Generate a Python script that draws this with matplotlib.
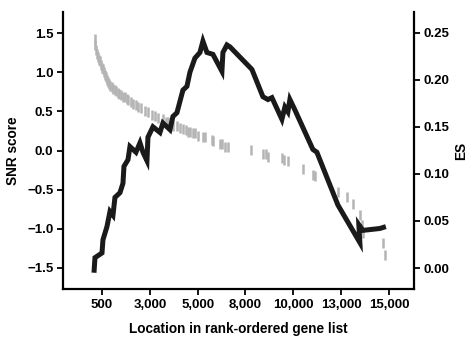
import matplotlib
matplotlib.use("Agg")
import matplotlib.pyplot as plt
import numpy as np

plt.rcParams['font.family'] = ['Liberation Sans', 'DejaVu Sans']
plt.rcParams['font.weight'] = 'bold'

# Running enrichment score (ES) line
es_rank = [96, 146, 500, 550, 752, 904, 1055, 1156, 1409, 1560, 1611, 1813, 1914,
           2217, 2419, 2570, 2772, 2823, 3075, 3429, 3580, 3934, 4085, 4287, 4590,
           4792, 4944, 5196, 5449, 5600, 5802, 6105, 6560, 6610, 6812, 6964, 8075,
           8630, 8883, 9085, 9590, 9741, 9893, 9994, 10246, 11155, 11358, 12418,
           13529, 13478, 13680, 14539, 14842]
es_value = [-0.005, 0.011, 0.016, 0.030, 0.044, 0.060, 0.056, 0.075, 0.080, 0.090,
            0.108, 0.115, 0.129, 0.123, 0.133, 0.123, 0.114, 0.139, 0.150, 0.144,
            0.154, 0.147, 0.161, 0.165, 0.189, 0.193, 0.208, 0.223, 0.229, 0.241,
            0.229, 0.227, 0.209, 0.229, 0.237, 0.235, 0.211, 0.182, 0.179, 0.181,
            0.158, 0.171, 0.166, 0.179, 0.168, 0.126, 0.123, 0.067, 0.027, 0.046,
            0.040, 0.042, 0.044]

# SNR scores of gene-set members
snr_rank = [146, 170, 197, 240, 298, 350, 399, 449, 500, 550, 600, 651, 702, 750, 803,
            850, 904, 1005, 1080, 1156, 1230, 1308, 1380, 1459, 1560, 1661, 1740, 1813,
            1964, 2065, 2217, 2318, 2470, 2671, 2823, 3025,
            3176, 3328, 3580, 3732, 3833, 4085, 4287, 4439, 4590, 4742, 4843, 4944,
            5096, 5196, 5348, 5600, 5702, 6055, 6106, 6459, 6560, 6711, 6863, 8025,
            8630, 8782, 8883, 9590, 9691, 9893, 10651, 11156, 11257, 12418, 12873,
            13176, 13529, 13630, 13681, 14691, 14792]
snr_value = [1.42, 1.35, 1.28, 1.23, 1.19, 1.16, 1.14, 1.09, 1.06, 1.04, 1.00, 0.97,
             0.94, 0.90, 0.87, 0.85, 0.83, 0.81, 0.79, 0.77, 0.76,
             0.74, 0.72, 0.71, 0.69, 0.68, 0.66, 0.64, 0.62, 0.59, 0.58, 0.56, 0.54, 0.51, 0.49,
             0.45, 0.44, 0.42, 0.40, 0.37, 0.36, 0.31, 0.31, 0.29, 0.27, 0.26, 0.24,
             0.24, 0.23, 0.22, 0.19, 0.17, 0.17, 0.13, 0.12, 0.08, 0.08, 0.05, 0.04,
             0.01, -0.04, -0.05, -0.08, -0.10, -0.12, -0.14, -0.24, -0.31, -0.33,
             -0.53, -0.60, -0.69, -0.82, -0.95, -1.05, -1.18, -1.33]

x_tick_labels = ['500', '3,000', '5,000', '8,000', '10,000', '13,000', '15,000']
snr_ticks = [-1.5, -1.0, -0.5, 0.0, 0.5, 1.0, 1.5]
es_ticks = [0.00, 0.05, 0.10, 0.15, 0.20, 0.25]

fig = plt.figure(figsize=(4.69, 3.37), dpi=100)
ax = fig.add_axes([0.1343, 0.1424, 0.8827 - 0.1343, 0.9644 - 0.1424])
ax2 = ax.twinx()

ax.plot(snr_rank, snr_value, ls='none', marker='|', ms=7.5, mew=1.8,
        color='#b4b4b4', zorder=1)
ax2.plot(es_rank, es_value, color='#1a1a1a', lw=3.6, solid_joinstyle='miter',
         solid_capstyle='butt', zorder=3)

ax.set_xlim(-1470, 16263)
ax.set_ylim(-1.77, 1.77)
ax2.set_ylim(-0.0223, 0.272)

ax.set_xticks(np.linspace(500, 15000, 7))
ax.set_xticklabels(x_tick_labels)
ax.set_yticks(snr_ticks)
ax.set_yticklabels([f'{v:.1f}'.replace('-', '\u2212') for v in snr_ticks])
ax2.set_yticks(es_ticks)
ax2.set_yticklabels([f'{v:.2f}' for v in es_ticks])

for a in (ax, ax2):
    a.spines['top'].set_visible(False)
    for s in ('left', 'right', 'bottom'):
        a.spines[s].set_linewidth(1.6)
    a.tick_params(direction='out', length=4, width=1.3, labelsize=9.5, pad=3)
ax.spines['right'].set_visible(False)
ax2.spines['left'].set_visible(False)
ax2.spines['bottom'].set_visible(False)

ax.set_xlabel('Location in rank-ordered gene list', fontsize=9.8, fontweight='bold', labelpad=8)
ax.set_ylabel('SNR score', fontsize=9.8, fontweight='bold', labelpad=5)
ax2.set_ylabel('ES', fontsize=9.8, fontweight='bold', rotation=90, labelpad=3)

fig.savefig('out.png', dpi=100)
